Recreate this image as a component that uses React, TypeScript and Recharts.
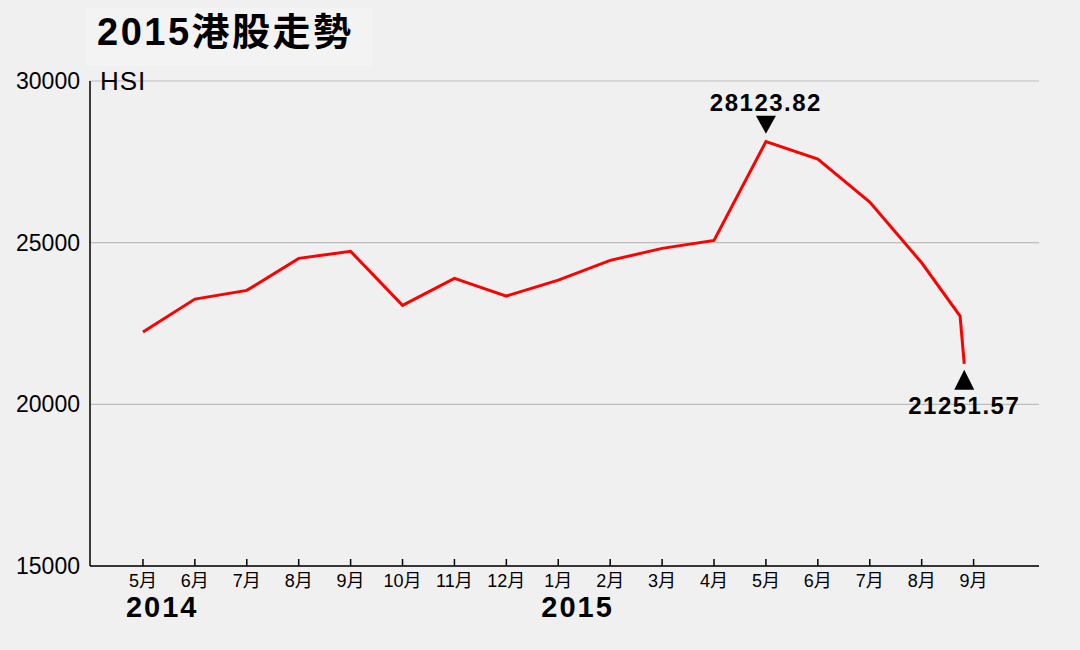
import React from 'react';
import { LineChart, Line, XAxis, YAxis, CartesianGrid } from 'recharts';

const monthTicks = [0, 1, 2, 3, 4, 5, 6, 7, 8, 9, 10, 11, 12, 13, 14, 15, 16];
const monthLabels = ['5月', '6月', '7月', '8月', '9月', '10月', '11月', '12月', '1月', '2月', '3月', '4月', '5月', '6月', '7月', '8月', '9月'];
const yearLabels: Record<number, string> = { 0: '2014', 8: '2015' };

const positions = [0, 1, 2, 3, 4, 5, 6, 7, 8, 9, 10, 11, 12, 13, 14, 15, 15.74, 15.82];
const hsi = [22236, 23256, 23525, 24514, 24731, 23061, 23896, 23349, 23843, 24452, 24824, 25071, 28123.82, 27585, 26255, 24378, 22730, 21251.57];

const yTicks = [15000, 20000, 25000, 30000];

const data = positions.map((p, i) => ({ pos: p, value: hsi[i] }));

const FONT = '"Liberation Sans", Arial, "Noto Sans CJK TC", sans-serif';

const XTick = (props: any) => {
  const { x, y, payload } = props;
  const idx = payload.value as number;
  const year = yearLabels[idx];
  return (
    <g>
      <line x1={x} y1={y} x2={x} y2={y - 7} stroke="#000" strokeWidth={1.5} />
      <text x={x} y={y + 21} textAnchor="middle" fontSize={18} fill="#000" fontFamily={FONT}>
        {monthLabels[idx]}
      </text>
      {year && (
        <text x={x - 17} y={y + 51} textAnchor="start" fontSize={29} fontWeight="bold" letterSpacing={2} fill="#000" fontFamily={FONT}>
          {year}
        </text>
      )}
    </g>
  );
};

const peakIdx = 12;
const lastIdx = hsi.length - 1;

const PointLabel = (props: any) => {
  const { x, y, index, value } = props;
  if (index === peakIdx) {
    return (
      <g>
        <polygon points={`${x - 10},${y - 26} ${x + 10},${y - 26} ${x},${y - 8}`} fill="#000" />
        <text x={x} y={y - 31} textAnchor="middle" fontSize={24} fontWeight="bold" letterSpacing={1.5} fill="#000" fontFamily={FONT}>
          {Number(value).toFixed(2)}
        </text>
      </g>
    );
  }
  if (index === lastIdx) {
    return (
      <g>
        <polygon points={`${x},${y + 6} ${x - 10},${y + 26} ${x + 10},${y + 26}`} fill="#000" />
        <text x={x} y={y + 50} textAnchor="middle" fontSize={24} fontWeight="bold" letterSpacing={1.5} fill="#000" fontFamily={FONT}>
          {Number(value).toFixed(2)}
        </text>
      </g>
    );
  }
  return null;
};

export default function App() {
  return (
    <div style={{ position: 'absolute', left: 0, top: 0, width: 1080, height: 650, background: '#f0f0f0', fontFamily: FONT }}>
      <div style={{ position: 'absolute', left: 86, top: 8, width: 286, height: 58, background: '#f3f3f3' }} />
      <div style={{ position: 'absolute', left: 97, top: 11, fontSize: 38, fontWeight: 'bold', letterSpacing: 2.5, lineHeight: '42px', color: '#000', whiteSpace: 'nowrap' }}>
        2015港股走勢
      </div>
      <div style={{ position: 'absolute', left: 0, top: 0 }}>
        <LineChart width={1080} height={650} data={data} margin={{ top: 81, right: 41, bottom: 0, left: 0 }}>
          <CartesianGrid horizontal vertical={false} stroke="#bdbdbd" strokeWidth={1.2} />
          <XAxis
            dataKey="pos"
            type="number"
            domain={[-1.02, 17.26]}
            ticks={monthTicks}
            allowDataOverflow
            height={84}
            tickSize={0}
            tickMargin={0}
            tickLine={false}
            axisLine={{ stroke: '#000', strokeWidth: 1.5 }}
            tick={<XTick />}
            interval={0}
          />
          <YAxis
            type="number"
            domain={[15000, 30000]}
            ticks={yTicks}
            width={90}
            tickSize={0}
            tickMargin={10}
            tickLine={false}
            axisLine={{ stroke: '#000', strokeWidth: 1.5 }}
            tick={{ fontSize: 23, fill: '#000', fontFamily: FONT }}
            interval={0}
          />
          <Line
            type="linear"
            dataKey="value"
            stroke="#ff0000"
            strokeWidth={3}
            dot={false}
            activeDot={false}
            isAnimationActive={false}
            label={<PointLabel />}
          />
        </LineChart>
      </div>
      <div style={{ position: 'absolute', left: 100, top: 66, fontSize: 26, lineHeight: '30px', color: '#000', letterSpacing: 1 }}>
        HSI
      </div>
    </div>
  );
}
